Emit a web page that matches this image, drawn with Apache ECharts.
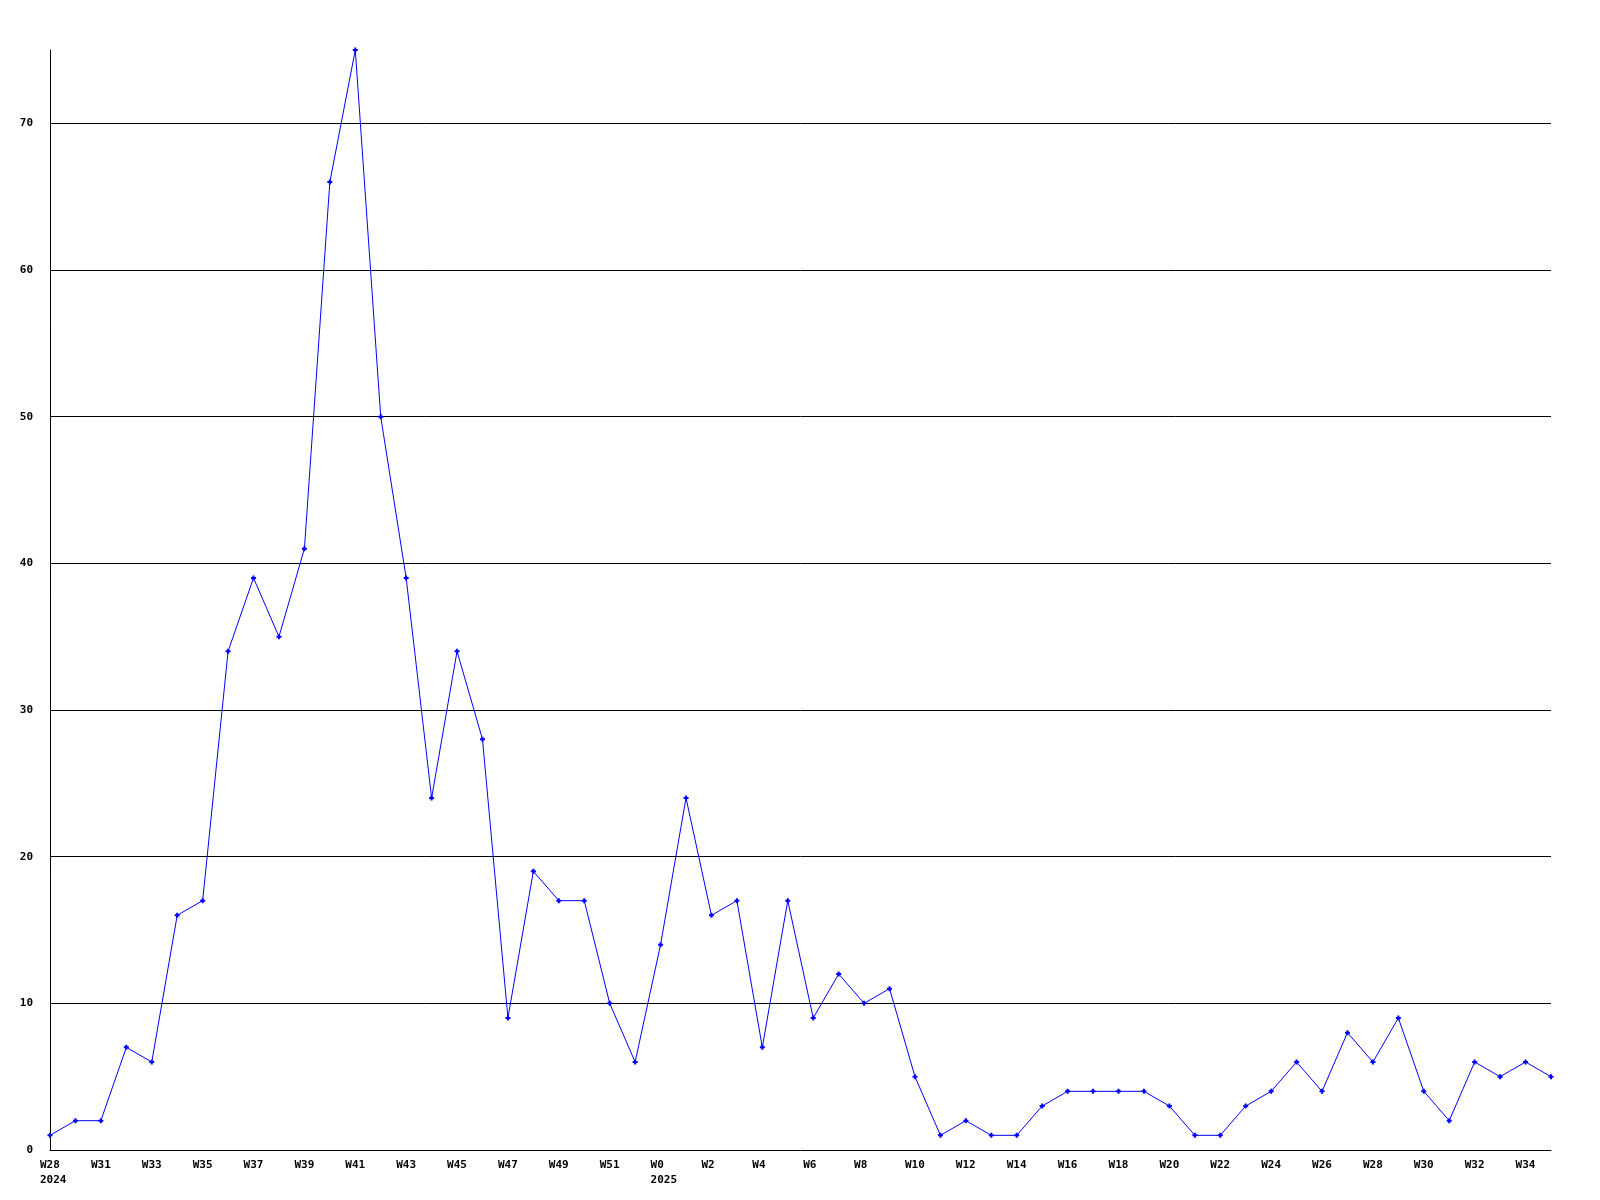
<!DOCTYPE html>
<html>
<head>
<meta charset="utf-8">
<style>
  html, body { margin: 0; padding: 0; background: #ffffff; }
  #chart { width: 1600px; height: 1200px; }
</style>
<script src="https://cdn.jsdelivr.net/npm/echarts@6/dist/echarts.min.js"></script>
</head>
<body>
<div id="chart"></div>
<script>
const weeks = [
  "W28", "W30", "W31", "W32", "W33", "W34", "W35", "W36", "W37", "W38",
  "W39", "W40", "W41", "W42", "W43", "W44", "W45", "W46", "W47", "W48",
  "W49", "W50", "W51", "W52", "W0", "W1", "W2", "W3", "W4", "W5",
  "W6", "W7", "W8", "W9", "W10", "W11", "W12", "W13", "W14", "W15",
  "W16", "W17", "W18", "W19", "W20", "W21", "W22", "W23", "W24", "W25",
  "W26", "W27", "W28", "W29", "W30", "W31", "W32", "W33", "W34", "W35"
];
const years = { 0: "2024", 24: "2025" };
const values = [
  1, 2, 2, 7, 6, 16, 17, 34, 39, 35,
  41, 66, 75, 50, 39, 24, 34, 28, 9, 19,
  17, 17, 10, 6, 14, 24, 16, 17, 7, 17,
  9, 12, 10, 11, 5, 1, 2, 1, 1, 3,
  4, 4, 4, 4, 3, 1, 1, 3, 4, 6,
  4, 8, 6, 9, 4, 2, 6, 5, 6, 5
];
const yMin = 0, yMax = 75, yStep = 10;

const chart = echarts.init(document.getElementById('chart'), null, { renderer: 'canvas' });
const font = { fontFamily: 'DejaVu Sans Mono', fontWeight: 'bold', fontSize: 11, color: '#000000' };

chart.setOption({
  backgroundColor: '#ffffff',
  animation: false,
  grid: { left: 50, right: 49, top: 50, bottom: 50, containLabel: false },
  xAxis: {
    type: 'category',
    data: weeks,
    boundaryGap: false,
    axisLine: { show: true, lineStyle: { color: '#000000', width: 1 } },
    axisTick: { show: false },
    splitLine: { show: false },
    axisLabel: Object.assign({}, font, {
      interval: 1,
      margin: 8,
      lineHeight: 15,
      align: 'left',
      padding: [0, 0, 0, -10],
      hideOverlap: false,
      formatter: function (v, i) { return years[i] ? v + '\n' + years[i] : v; }
    })
  },
  yAxis: {
    type: 'value',
    min: yMin, max: yMax, interval: yStep,
    axisLine: { show: true, lineStyle: { color: '#000000', width: 1 } },
    axisTick: { show: false },
    splitLine: { show: true, showMinLine: false, showMaxLine: false, lineStyle: { color: '#000000', width: 1 } },
    axisLabel: Object.assign({}, font, {
      margin: 17,
      showMaxLabel: false,
      formatter: function (v) { return v === yMax ? '' : String(v); }
    })
  },
  series: [{
    type: 'line',
    data: values,
    symbol: 'path://M1.5,0h2v1.5h1.5v2h-1.5v1.5h-2v-1.5h-1.5v-2h1.5z',
    symbolSize: 5,
    showAllSymbol: true,
    lineStyle: { color: '#0000ff', width: 1 },
    itemStyle: { color: '#0000ff' },
    emphasis: { disabled: true }
  }]
});
</script>
</body>
</html>
